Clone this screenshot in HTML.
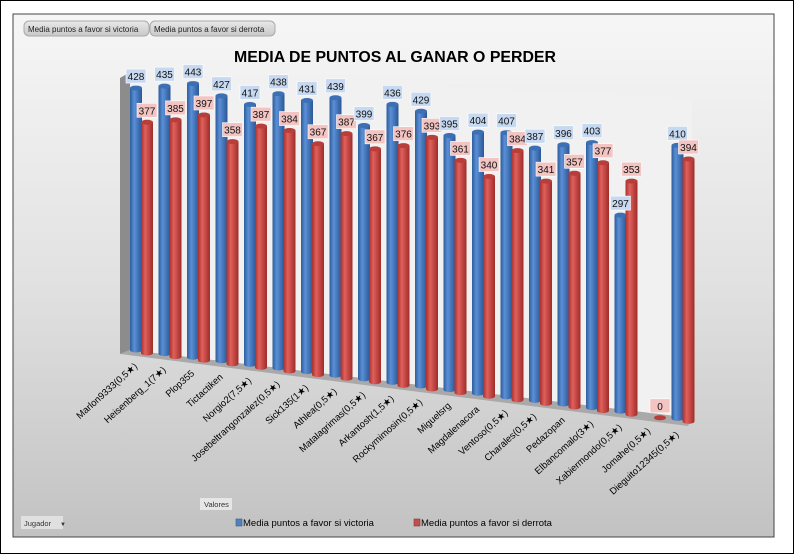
<!DOCTYPE html>
<html><head><meta charset="utf-8"><style>
body{margin:0;width:794px;height:555px;overflow:hidden;background:#fff;font-family:"Liberation Sans",sans-serif}
</style></head><body>
<svg width="794" height="555" xmlns="http://www.w3.org/2000/svg" font-family="Liberation Sans, DejaVu Sans, sans-serif">
<defs>
<linearGradient id="bg" x1="0" y1="0" x2="0" y2="1"><stop offset="0" stop-color="#f6f6f6"/><stop offset="0.5" stop-color="#e2e2e2"/><stop offset="1" stop-color="#c2c2c2"/></linearGradient>
<linearGradient id="bl" x1="0" y1="0" x2="1" y2="0"><stop offset="0" stop-color="#2c5d9c"/><stop offset="0.35" stop-color="#5b8fd6"/><stop offset="1" stop-color="#2a5796"/></linearGradient>
<linearGradient id="rd" x1="0" y1="0" x2="1" y2="0"><stop offset="0" stop-color="#a8302d"/><stop offset="0.35" stop-color="#e0605c"/><stop offset="1" stop-color="#a02c29"/></linearGradient>
<linearGradient id="bt" x1="0" y1="0" x2="0" y2="1"><stop offset="0" stop-color="#e8e8e8"/><stop offset="1" stop-color="#c8c8c8"/></linearGradient>
</defs>
<rect x="0.5" y="0.5" width="793" height="553" fill="#fff" stroke="#000"/>
<rect x="13" y="14" width="761" height="523" fill="url(#bg)" stroke="#444"/>
<polygon points="130,72 692,98 692,418 130,350" fill="#f1f1f1"/>
<polygon points="120,78 130,72 130,350 120,354" fill="#8c8c8c"/>
<polygon points="120,354 130,350 692,418 688,426" fill="#a9a9a9"/>
<rect x="24" y="21" width="125" height="15" rx="5" fill="url(#bt)" stroke="#aaa"/>
<text x="28" y="32" font-size="8" fill="#222">Media puntos a favor si victoria</text>
<rect x="150" y="21" width="125" height="15" rx="5" fill="url(#bt)" stroke="#aaa"/>
<text x="154" y="32" font-size="8" fill="#222">Media puntos a favor si derrota</text>
<text x="395" y="62" font-size="16" font-weight="bold" text-anchor="middle" fill="#000" textLength="322" lengthAdjust="spacingAndGlyphs">MEDIA DE PUNTOS AL GANAR O PERDER</text>
<g id="bars"></g>
<rect x="200" y="498" width="32" height="12" fill="#e6e6e6"/>
<text x="204" y="507" font-size="7.5" fill="#333">Valores</text>
<rect x="21" y="516" width="42" height="13" fill="#e0e0e0"/>
<text x="24" y="526" font-size="7.5" fill="#333">Jugador</text>
<text x="60" y="526" font-size="6" fill="#333">▼</text>
<rect x="236" y="519" width="6" height="7" fill="#4f81bd" stroke="#385d8a" stroke-width="0.6"/>
<text x="243" y="526" font-size="9.5" fill="#000">Media puntos a favor si victoria</text>
<rect x="414" y="519" width="6" height="7" fill="#c0504d" stroke="#8c3836" stroke-width="0.6"/>
<text x="421" y="526" font-size="9.5" fill="#000">Media puntos a favor si derrota</text>
</svg>
<script>
var names=["Marlon9333(0,5★)","Heisenberg_1(7★)","Plop355","Tictactiken","Norgio2(7,5★)","Josebeltrangonzalez(0,5★)","Sick135(1★)","Athlea(0,5★)","Matalagrimas(0,5★)","Arkantosh(1,5★)","Rockymimosin(0,5★)","Miguelsrg","Magdalenacora","Ventoso(0,5★)","Charales(0,5★)","Pedazopan","Elbancomalo(3★)","Xabiermondo(0,5★)","Jomahe(0,5★)","Dieguito12345(0,5★)"];
var B=[428,435,443,427,417,438,431,439,399,436,429,395,404,407,387,396,403,297,null,410];
var R=[377,385,397,358,387,384,367,387,367,376,393,361,340,384,341,357,377,353,0,394];
var g=document.getElementById('bars'),s='',lab='';
function bar(xc,yb,h,fill,lf,v){var w=12,top=yb-h;var r='';
 if(h>0){r+='<rect x="'+(xc-w/2)+'" y="'+top+'" width="'+w+'" height="'+h+'" fill="url(#'+fill+')"/>';
 r+='<ellipse cx="'+xc+'" cy="'+yb+'" rx="6" ry="2.5" fill="url(#'+fill+')"/>';
 r+='<ellipse cx="'+xc+'" cy="'+top+'" rx="6" ry="2.5" fill="'+(fill=='bl'?'#3d6fb5':'#b83e3a')+'"/>';}
 else r+='<ellipse cx="'+xc+'" cy="'+yb+'" rx="6" ry="2.5" fill="#b83e3a"/>';
 var ly=top-19;
 lab+='<rect x="'+(xc-10)+'" y="'+ly+'" width="20" height="14" fill="'+lf+'" stroke="#fff" stroke-width="0.6"/><text x="'+xc+'" y="'+(ly+11)+'" font-size="10" text-anchor="middle" fill="#111">'+v+'</text>';
 return r;}
for(var i=0;i<20;i++){var xc=136+28.5*i,yb=350+3.6*i,k=0.612+0.00284*i;
 if(B[i]!=null)s+=bar(xc,yb,B[i]*k,'bl','#c6d9f1',B[i]);
 s+=bar(xc+11,yb+3,R[i]*k,'rd','#f2c4c2',R[i]);
 var ex=xc+2,ey=yb+17;
 s+='<text x="'+ex+'" y="'+ey+'" font-size="9.5" text-anchor="end" fill="#000" transform="rotate(-42 '+ex+' '+ey+')">'+names[i]+'</text>';}
g.innerHTML=s+lab;
</script>
</body></html>
